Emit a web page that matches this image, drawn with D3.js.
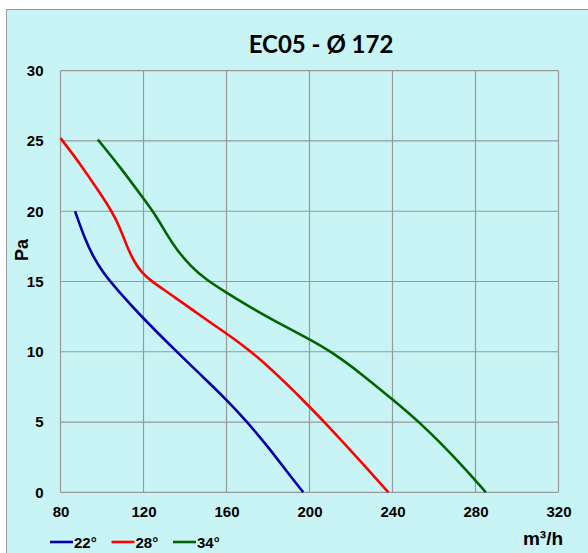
<!DOCTYPE html>
<html>
<head>
<meta charset="utf-8">
<script src="https://cdn.jsdelivr.net/npm/d3@7"></script>
<style>
  html, body { margin: 0; padding: 0; background: #fff; }
  svg { display: block; }
</style>
</head>
<body>
<div id="chart"></div>
<script>
// airflow (m³/h) vs static pressure (Pa), three blade angles
const xTicks = [80, 120, 160, 200, 240, 280, 320];
const yTicks = [0, 5, 10, 15, 20, 25, 30];

const curve22 = [
  [87, 20], [91.8, 18], [95.8, 16.75], [100.6, 15.6], [107.1, 14.45], [118.3, 12.6],
  [136, 10], [148, 8.3], [160, 6.6], [170, 5], [180, 3.25], [190, 1.3], [197, 0]
];
const curve28 = [
  [80, 25.2], [89.4, 23.4], [99, 21.3], [104.7, 20.0], [108.5, 18.9], [112, 17.5],
  [115.5, 16.4], [119, 15.65], [124, 15.0], [130, 14.4], [139.2, 13.45], [150.5, 12.26],
  [160, 11.3], [168, 10.45], [176, 9.5], [186, 8.15], [200, 6.1], [211, 4.4],
  [224, 2.3], [238, 0]
];
const curve34 = [
  [98, 25.1], [109, 23.1], [120, 20.9], [126, 19.7], [131, 18.4], [136, 17.25],
  [143, 16.05], [150, 15.15], [160, 14.2], [170, 13.3], [183, 12.2], [200, 10.9],
  [210, 10.05], [224.5, 8.5], [240, 6.6], [253, 5.0], [270, 2.5], [285, 0]
];

const series = [
  { label: '22°', color: '#0000a8', data: curve22 },
  { label: '28°', color: '#ff0000', data: curve28 },
  { label: '34°', color: '#006400', data: curve34 },
];

const W = 588, H = 553;
const plot = { left: 60.5, right: 558.5, top: 70.7, bottom: 492.3 };

const svg = d3.select('#chart').append('svg')
  .attr('width', W).attr('height', H);

// chart frame
svg.append('rect')
  .attr('x', 6.5).attr('y', 9.5)
  .attr('width', W).attr('height', H)
  .attr('fill', '#c8f4f5')
  .attr('stroke', '#9a9a9a').attr('stroke-width', 1);

const x = d3.scaleLinear().domain([80, 320]).range([plot.left, plot.right]);
const y = d3.scaleLinear().domain([0, 30]).range([plot.bottom, plot.top]);

// gridlines
const grid = svg.append('g').attr('stroke', '#999').attr('stroke-width', 1.2);
grid.selectAll('.gx').data(xTicks).join('line')
  .attr('x1', d => x(d)).attr('x2', d => x(d))
  .attr('y1', plot.top).attr('y2', plot.bottom);
grid.selectAll('.gy').data(yTicks).join('line')
  .attr('x1', plot.left).attr('x2', plot.right)
  .attr('y1', d => y(d)).attr('y2', d => y(d));

// axes (labels only, Excel style)
const xAxis = svg.append('g')
  .attr('transform', `translate(0,${plot.bottom + 11})`)
  .call(d3.axisBottom(x).tickValues(xTicks).tickSize(0));
const yAxis = svg.append('g')
  .attr('transform', `translate(${plot.left - 14},0)`)
  .call(d3.axisLeft(y).tickValues(yTicks).tickSize(0));
[xAxis, yAxis].forEach(a => {
  a.select('.domain').remove();
  a.selectAll('text')
    .attr('font-family', 'Liberation Sans, Arial, sans-serif')
    .attr('font-weight', 'bold')
    .attr('font-size', 15)
    .attr('fill', '#000');
});

// curves: B-spline smooths out reading noise in the points
const line = d3.line()
  .x(d => x(d[0])).y(d => y(d[1]))
  .curve(d3.curveBasis);

svg.append('g').selectAll('path').data(series).join('path')
  .attr('d', d => line(d.data))
  .attr('fill', 'none')
  .attr('stroke', d => d.color)
  .attr('stroke-width', 2.6);

// title
svg.append('text')
  .attr('x', 321).attr('y', 53)
  .attr('text-anchor', 'middle')
  .attr('font-family', 'Lato, sans-serif')
  .attr('font-weight', 'bold')
  .attr('font-size', 24)
  .text('EC05 - Ø 172');

// axis titles
svg.append('text')
  .attr('transform', 'translate(28,250) rotate(-90)')
  .attr('text-anchor', 'middle')
  .attr('font-family', 'Liberation Sans, Arial, sans-serif')
  .attr('font-weight', 'bold')
  .attr('font-size', 18)
  .text('Pa');

svg.append('text')
  .attr('x', 543).attr('y', 545)
  .attr('text-anchor', 'middle')
  .attr('font-family', 'Liberation Sans, Arial, sans-serif')
  .attr('font-weight', 'bold')
  .attr('font-size', 19)
  .text('m³/h');

// legend
const legend = svg.append('g')
  .selectAll('g').data(series).join('g')
  .attr('transform', (d, i) => `translate(${50 + i * 61.5},542)`);
legend.append('line')
  .attr('x1', 0).attr('x2', 23)
  .attr('stroke', d => d.color).attr('stroke-width', 2.6);
legend.append('text')
  .attr('x', 24).attr('y', 5.5)
  .attr('font-family', 'Liberation Sans, Arial, sans-serif')
  .attr('font-weight', 'bold')
  .attr('font-size', 15)
  .text(d => d.label);
</script>
</body>
</html>
